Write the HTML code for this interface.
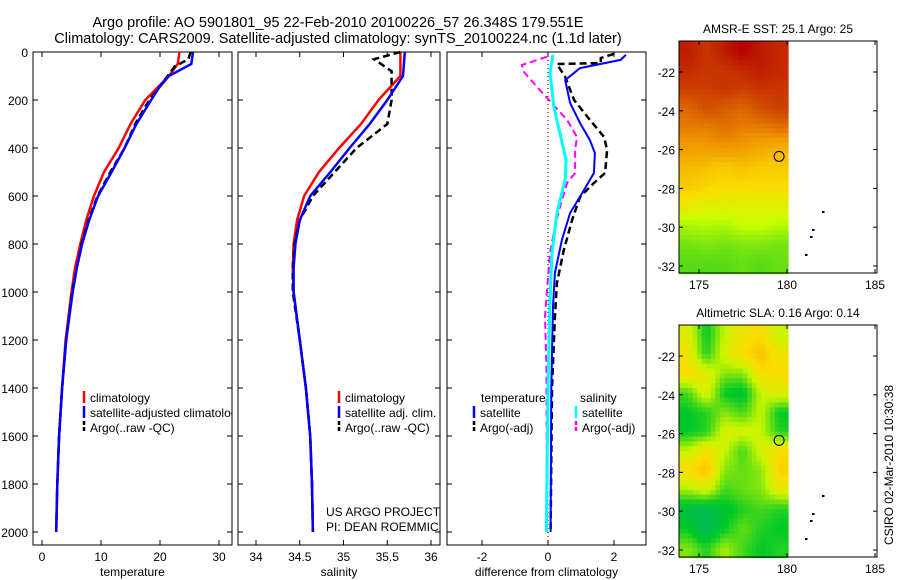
<!DOCTYPE html>
<html><head><meta charset="utf-8"><style>
body{margin:0;background:#fff}
svg{display:block;font-family:"Liberation Sans",sans-serif}
</style></head><body>
<svg id="c" width="900" height="580" viewBox="0 0 900 580">
<text x="338" y="27" font-size="14.5" text-anchor="middle">Argo profile: AO 5901801_95 22-Feb-2010 20100226_57 26.348S 179.551E</text>
<text x="338" y="43" font-size="14.5" text-anchor="middle">Climatology: CARS2009. Satellite-adjusted climatology: synTS_20100224.nc (1.1d later)</text>
<g id="g"></g>
</svg>
<script>
// ---- data ----
const tDepth=[0,50,100,150,200,300,400,500,600,700,800,900,1000,1200,1400,1600,1800,2000];
const tClim=[23.3,23,21.5,19.5,17.5,15,13,10.5,8.8,7.5,6.5,5.6,5,4,3.4,2.9,2.6,2.4];
const tSat=[25.6,25.3,21.5,19.8,18.5,16,14,11.8,9.5,8,6.8,5.9,5.2,4.1,3.4,2.9,2.6,2.4];
const tArgoDepth=[0,30,60,100,200,300,400,500,600,700,800,1000,1200,1400,1600,1800,2000];
const tArgo=[25.2,24.8,22.5,21.3,18.2,15.8,14,11.6,9.4,7.9,6.7,5.1,4.1,3.4,2.9,2.6,2.4];
const sDepth=[0,100,200,300,400,500,600,700,800,900,1000,1200,1400,1600,1800,2000];
const sClim=[35.65,35.65,35.4,35.2,34.95,34.72,34.55,34.47,34.43,34.42,34.43,34.5,34.57,34.62,34.64,34.65];
const sSat=[35.7,35.68,35.5,35.3,35.07,34.85,34.62,34.5,34.45,34.43,34.43,34.5,34.57,34.62,34.64,34.65];
const sArgoDepth=[0,30,80,200,300,400,500,600,700,800,900,1000,1200,1400,1600,1800,2000];
const sArgo=[35.65,35.35,35.55,35.55,35.5,35.15,34.9,34.65,34.5,34.44,34.42,34.42,34.5,34.57,34.62,34.64,34.65];
const dtSatDepth=[12,33,67,117,212,296,367,421,504,575,671,783,921,1062,1400,2000];
const dtSat=[2.36,2.2,0.97,0.52,0.67,0.97,1.27,1.42,1.39,1.09,0.67,0.42,0.21,0.15,0.1,0.08];
const dtArgoDepth=[8,25,46,50,104,200,283,354,408,504,546,604,700,825,963,1104,1400,2000];
const dtArgo=[2.0,1.6,1.6,0.27,0.52,0.79,1.27,1.7,1.79,1.73,1.39,0.97,0.73,0.48,0.27,0.21,0.12,0.08];
const dsArgoDepth=[20,54,83,146,200,283,354,408,504,546,646,729,838,992,1104,1300,2000];
const dsArgo=[-0.03,-0.79,-0.73,-0.33,0.03,0.58,0.88,0.82,0.82,0.58,0.36,0.21,0.06,-0.03,-0.09,-0.05,-0.03];
const dsSatDepth=[12,87,229,338,450,533,671,838,1033,1400,2000];
const dsSat=[0.15,0.06,0.18,0.36,0.55,0.52,0.27,0.12,0.06,0,-0.05];
const depthTicks=[0,200,400,600,800,1000,1200,1400,1600,1800,2000];
const tTicks=[0,10,20,30];const sTicks=[34,34.5,35,35.5,36];const dTicks=[-2,0,2];
const latTicks=[-22,-24,-26,-28,-30,-32];const lonTicks=[175,180,185];
const sst=[[0.95,0.9,0.95,1,0.95,0.92],[0.92,0.9,0.9,0.92,0.95,0.92],[0.88,0.88,0.9,0.88,0.9,0.9],[0.8,0.85,0.82,0.8,0.85,0.88],[0.75,0.75,0.78,0.75,0.75,0.78],[0.68,0.68,0.7,0.68,0.65,0.62],[0.6,0.58,0.55,0.58,0.55,0.55],[0.55,0.52,0.5,0.5,0.5,0.5],[0.45,0.42,0.42,0.42,0.42,0.42],[0.3,0.32,0.3,0.35,0.35,0.32],[0.2,0.22,0.2,0.22,0.22,0.2],[0.15,0.15,0.15,0.18,0.15,0.18]];
const sla=[[0.7,0.3,0.6,0.75,0.8,0.6],[0.75,0.35,0.65,0.8,0.9,0.75],[0.8,0.7,0.5,0.5,0.8,0.8],[0.4,0.7,0.3,0.25,0.6,0.7],[0.3,0.35,0.5,0.4,0.6,0.3],[0.3,0.35,0.65,0.65,0.6,0.35],[0.6,0.8,0.6,0.4,0.65,0.8],[0.8,0.9,0.5,0.45,0.5,0.85],[0.55,0.65,0.4,0.45,0.5,0.7],[0.2,0.15,0.25,0.35,0.4,0.35],[0.3,0.1,0.3,0.45,0.35,0.3],[0.5,0.35,0.55,0.4,0.3,0.35]];
const floatLon=179.551, floatLat=-26.348;
// ---- helpers ----
const NS='http://www.w3.org/2000/svg';const G=document.getElementById('g');
function el(t,a,p){const e=document.createElementNS(NS,t);for(const k in a)e.setAttribute(k,a[k]);(p||G).appendChild(e);return e;}
function txt(x,y,s,sz,anc,name,p){const e=el('text',{x:x,y:y,'font-size':sz,'text-anchor':anc||'start'},p);e.textContent=s;


return e;}
const Y=d=>52+d*0.24;
const pTop=52,pBot=545;
function panel(x0,x1,fx,ticks,lab,name,showY){
 const r=el('rect',{x:x0,y:pTop,width:x1-x0,height:pBot-pTop,fill:'none',stroke:'#000','stroke-width':1});
 
 
 ticks.forEach(t=>{const x=fx(t);el('line',{x1:x,x2:x,y1:pBot,y2:pBot-5,stroke:'#000'});el('line',{x1:x,x2:x,y1:pTop,y2:pTop+5,stroke:'#000'});
  if(x<x1)txt(x,561,String(t),12,'middle','x-tick-label');});
 depthTicks.forEach(d=>{el('line',{x1:x0,x2:x0+5,y1:Y(d),y2:Y(d),stroke:'#000'});el('line',{x1:x1,x2:x1-5,y1:Y(d),y2:Y(d),stroke:'#000'});
  if(showY)txt(x0-5,Y(d)+5,String(d),12,'end','y-tick-label');});
 txt((x0+x1)/2,576,lab,12,'middle','x-axis-title');
}
function line(xs,ds,fx,col,w,dash,name){
 const pts=xs.map((v,i)=>fx(v).toFixed(1)+','+Y(ds[i]).toFixed(1)).join(' ');
 const p=el('polyline',{points:pts,fill:'none',stroke:col,'stroke-width':w,'stroke-dasharray':dash||'none'});
 
 
}
const fT=v=>42+v*5.9, fS=v=>256+(v-34)*87.5, fD=v=>548+v*33;
panel(33,232,fT,tTicks,'temperature','temperature-panel',true);
panel(238,440,fS,sTicks,'salinity','salinity-panel',false);
panel(447,646,fD,dTicks,'difference from climatology','difference-panel',false);
line(tClim,tDepth,fT,'#f00',2.5,null,'temp-climatology-line');
line(tArgo,tArgoDepth,fT,'#000',2.5,'7,4','temp-argo-line');
line(tSat,tDepth,fT,'#00f',2.5,null,'temp-satellite-line');
line(sClim,sDepth,fS,'#f00',2.5,null,'sal-climatology-line');
line(sArgo,sArgoDepth,fS,'#000',2.5,'7,4','sal-argo-line');
line(sSat,sDepth,fS,'#00f',2.5,null,'sal-satellite-line');
el('line',{x1:fD(0),x2:fD(0),y1:pTop,y2:pBot,stroke:'#000','stroke-dasharray':'1,3'});
line(dsArgo,dsArgoDepth,fD,'#f0f',2,'7,4','diff-sal-argo-line');
line(dtArgo,dtArgoDepth,fD,'#000',2.5,'7,4','diff-temp-argo-line');
line(dtSat,dtSatDepth,fD,'#00f',2,null,'diff-temp-satellite-line');
line(dsSat,dsSatDepth,fD,'#0ff',3,null,'diff-sal-satellite-line');
// legends
function leg(mx,y,col,dash,s,name){el('line',{x1:mx,x2:mx,y1:y-11,y2:y+1,stroke:col,'stroke-width':2.5,'stroke-dasharray':dash||'none'});txt(mx+6,y,s,12,'start',name);}
const cp=el('clipPath',{id:'cp1'});el('rect',{x:33,y:52,width:199,height:493},cp);
const lg1=el('g',{'clip-path':'url(#cp1)'});
[['#f00',null,'climatology'],['#00f',null,'satellite-adjusted climatology'],['#000','4,2','Argo(..raw -QC)']].forEach((a,i)=>{
 const y=402+i*15;el('line',{x1:84,x2:84,y1:y-11,y2:y+1,stroke:a[0],'stroke-width':2.5,'stroke-dasharray':a[1]||'none'},lg1);txt(90,y,a[2],12,'start','legend-entry',lg1);});
[['#f00',null,'climatology'],['#00f',null,'satellite adj. clim.'],['#000','4,2','Argo(..raw -QC)']].forEach((a,i)=>leg(339,402+i*15,a[0],a[1],a[2],'legend-entry'));
txt(481,402,'temperature',12,'start','legend-header');txt(580,402,'salinity',12,'start','legend-header');
leg(474,417,'#00f',null,'satellite','legend-entry');leg(474,432,'#000','4,2','Argo(-adj)','legend-entry');
leg(576,417,'#0ff',null,'satellite','legend-entry');leg(576,432,'#f0f','4,2','Argo(-adj)','legend-entry');
const cp2=el('clipPath',{id:'cp2'});el('rect',{x:238,y:52,width:202,height:493},cp2);
const cg=el('g',{'clip-path':'url(#cp2)'});
txt(326,516,'US ARGO PROJECT',12,'start','credit-line-1',cg);txt(326,531,'PI: DEAN ROEMMICH',12,'start','credit-line-2',cg);
// maps
function lerpC(stops,v){for(let i=1;i<stops.length;i++){if(v<=stops[i][0]){const a=stops[i-1],b=stops[i],t=(v-a[0])/(b[0]-a[0]);return 'rgb('+[1,2,3].map(k=>Math.round(a[k]+(b[k]-a[k])*t)).join(',')+')';}}const l=stops[stops.length-1];return 'rgb('+l[1]+','+l[2]+','+l[3]+')';}
const sstStops=[[0,0,190,40],[0.35,200,255,0],[0.5,250,220,0],[0.7,240,150,0],[0.85,210,80,0],[1,180,0,0]];
const slaStops=[[0,0,180,120],[0.3,0,200,40],[0.6,200,245,0],[0.8,250,220,0],[1,250,170,0]];
function sample(grid,r,c){const nr=grid.length,nc=grid[0].length;
 r=Math.max(0,Math.min(nr-1,r));c=Math.max(0,Math.min(nc-1,c));
 const r0=Math.floor(r),c0=Math.floor(c),r1=Math.min(nr-1,r0+1),c1=Math.min(nc-1,c0+1),fr=r-r0,fc=c-c0;
 return grid[r0][c0]*(1-fr)*(1-fc)+grid[r0][c1]*(1-fr)*fc+grid[r1][c0]*fr*(1-fc)+grid[r1][c1]*fr*fc;}
function map(y0,grid,stops,title,name){
 const x0=679,x1=877,y1=y0+232;
 const fx=l=>699+(l-175)*17.6, fy=la=>y0+31+(-22-la)*19.4;
 const lat0=-20.4,lon0=173.86,lon1=180.07,nr=grid.length,nc=grid[0].length,S=4;
 const dl=(lon1-lon0)/(nc*S), dla=12/(nr*S);
 for(let r=0;r<nr*S;r++)for(let c=0;c<nc*S;c++){
  const v=sample(grid,(r+0.5)/S-0.5,(c+0.5)/S-0.5);
  const cell=el('rect',{x:fx(lon0+c*dl),y:fy(lat0-r*dla),width:dl*17.6+0.4,height:dla*19.4+0.4,fill:lerpC(stops,v)});
  
  
 }
 const b=el('rect',{x:x0,y:y0,width:x1-x0,height:232,fill:'none',stroke:'#000'});
 
 
 latTicks.forEach(la=>{const y=fy(la);el('line',{x1:x0,x2:x0+4,y1:y,y2:y,stroke:'#000'});el('line',{x1:x1,x2:x1-4,y1:y,y2:y,stroke:'#000'});txt(x0-4,y+5,String(la),12,'end','lat-tick-label');});
 lonTicks.forEach(l=>{const x=fx(l);el('line',{x1:x,x2:x,y1:y1,y2:y1-4,stroke:'#000'});el('line',{x1:x,x2:x,y1:y0,y2:y0+4,stroke:'#000'});txt(x,y1+16,String(l),12,'middle','lon-tick-label');});
 txt(778,y0-8,title,12,'middle','map-title');
 const m=el('circle',{cx:fx(floatLon),cy:fy(floatLat),r:5,fill:'none',stroke:'#000'});
 
 
 [[823,171],[813,189],[811,196],[806,214]].forEach(p=>el('rect',{x:p[0]-1,y:y0+p[1]-1,width:2.5,height:2,fill:'#000'}));
}
map(41,sst,sstStops,'AMSR-E SST: 25.1 Argo: 25','sst-map');
map(325,sla,slaStops,'Altimetric SLA: 0.16 Argo: 0.14','sla-map');
const ts=txt(0,0,'CSIRO 02-Mar-2010 10:30:38',12,'middle','timestamp');ts.setAttribute('transform','translate(893,465) rotate(-90)');
</script>
</body></html>
